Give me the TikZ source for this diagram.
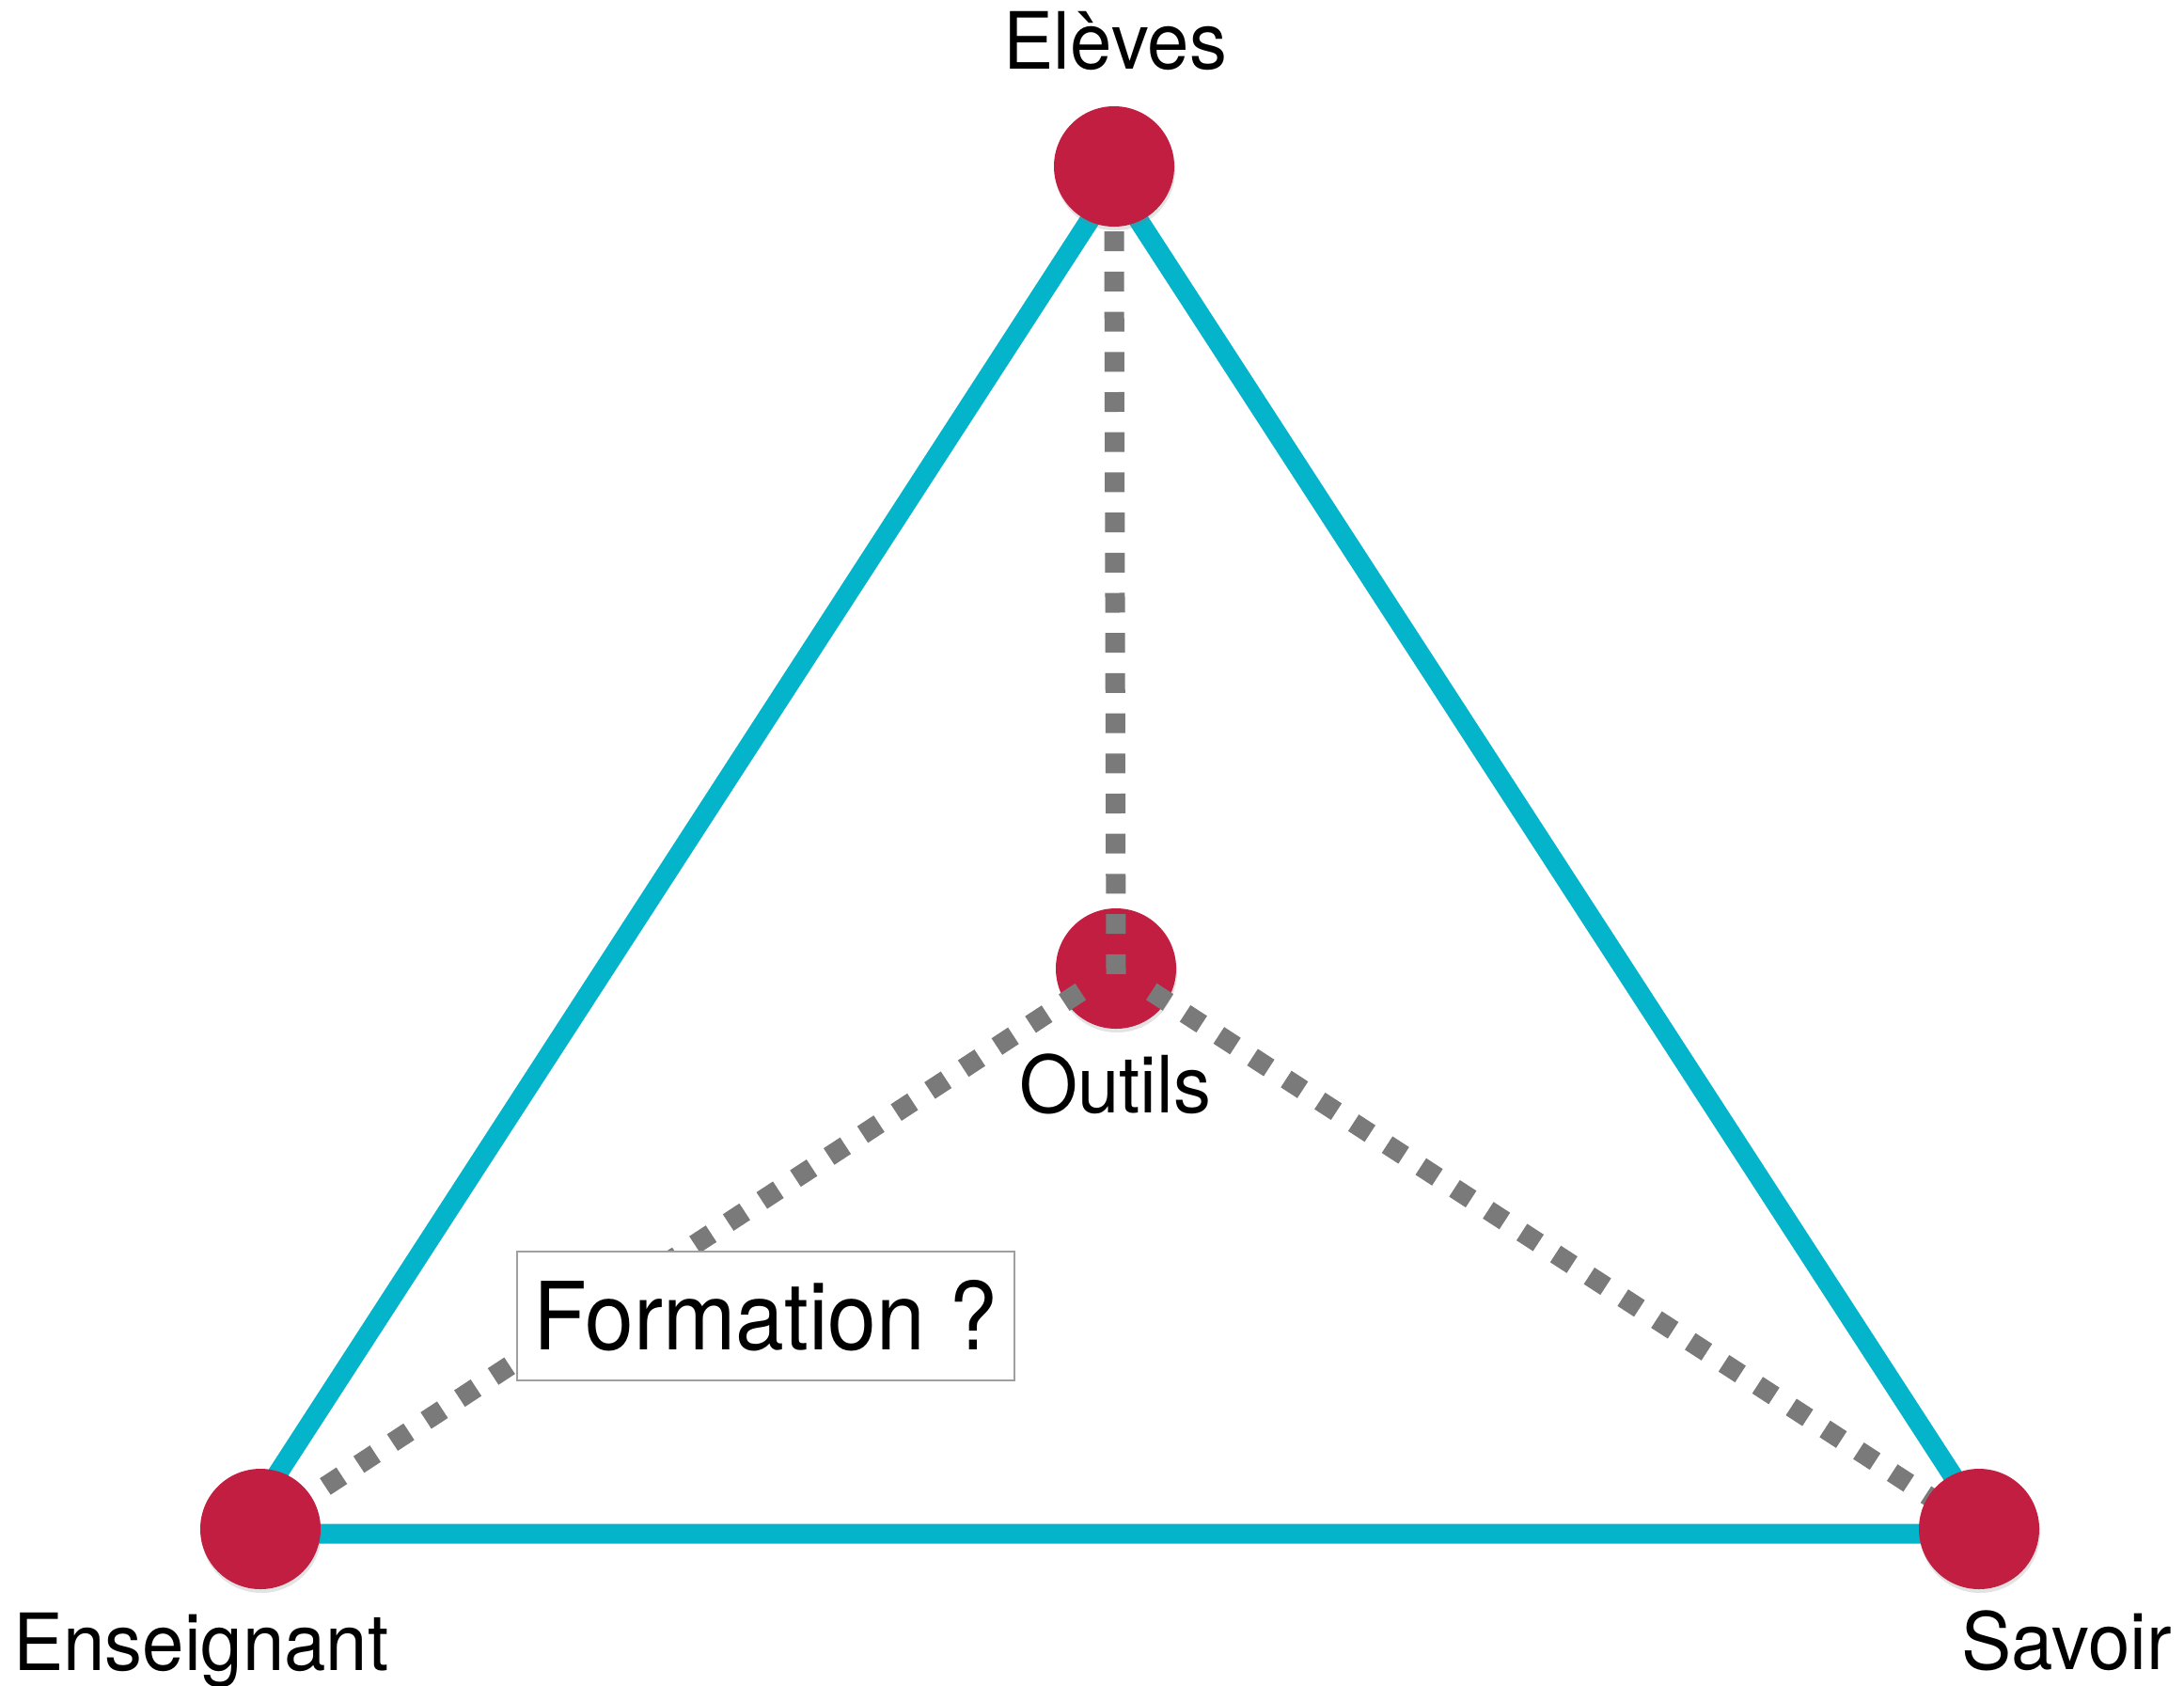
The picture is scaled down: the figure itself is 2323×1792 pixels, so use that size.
\documentclass[tikz,border=0pt]{standalone}
\usepackage{fontspec}
\setmainfont{TeX Gyre Heros}[FakeStretch=0.93]
\newfontfamily\labfont{TeX Gyre Heros}[FakeStretch=0.95]
\usetikzlibrary{calc,shadows}
\definecolor{dotred}{HTML}{C21E41}
\definecolor{triblue}{HTML}{03B4CB}
\definecolor{dashgray}{HTML}{7A7A7A}
\pgfdeclarelayer{bg}
\pgfsetlayers{bg,main}
\begin{document}
\begin{tikzpicture}[x=1pt,y=-1pt,
  dot/.style={circle,fill=dotred,minimum size=128pt,inner sep=0pt,
    drop shadow={opacity=0.22,shadow xshift=1pt,shadow yshift=-4pt}},
  side/.style={draw=triblue,line width=21pt,line join=round},
  link/.style={draw=dashgray,line width=21pt,dash pattern=on 21pt off 21.7pt},
  lab/.style={font=\labfont\fontsize{84}{100}\selectfont,inner sep=0pt},
  framebox/.style={draw=gray!75,line width=2pt,fill=white,minimum width=529pt,
    minimum height=137pt,inner sep=0pt,font=\fontsize{100}{116}\selectfont}
  ]
\useasboundingbox (0,0) rectangle (2323,1792);

% circles on top
\node[dot] (El) at (1185,177) {};
\node[dot] (En) at (277,1626) {};
\node[dot] (Sa) at (2105,1626) {};

% labels
\node[lab,anchor=base] (lEl) at (1186,73) {Elèves};
\node[lab,anchor=base] (lOu) at (1186,1183) {Outils};
\node[lab,anchor=base west] (lEn) at (14,1776) {Enseignant};
\node[lab,anchor=base east] (lSa) at (2310,1775) {Savoir};

% background: triangle, Outils circle, dashed links
\begin{pgfonlayer}{bg}
  \coordinate (tA) at (1185,194);
  \coordinate (tB) at (254,1631);
  \coordinate (tC) at (2117,1631);
  \draw[side] (tA) -- (tB) -- (tC) -- cycle;
  \node[dot] (Ou) at (1187,1030) {};
  \draw[link] ($(Ou)!45pt!(En)$) -- (En.center);
  \draw[link] ($(Ou)!45pt!(Sa)$) -- (Sa.center);
  \draw[link] ($(El.south)+(0,5)$) -- ($(Ou.center)+(0,6)$);
\end{pgfonlayer}

% box
\node[framebox] (fo) at (814.5,1399.5) {Formation ?};
\end{tikzpicture}
\end{document}
